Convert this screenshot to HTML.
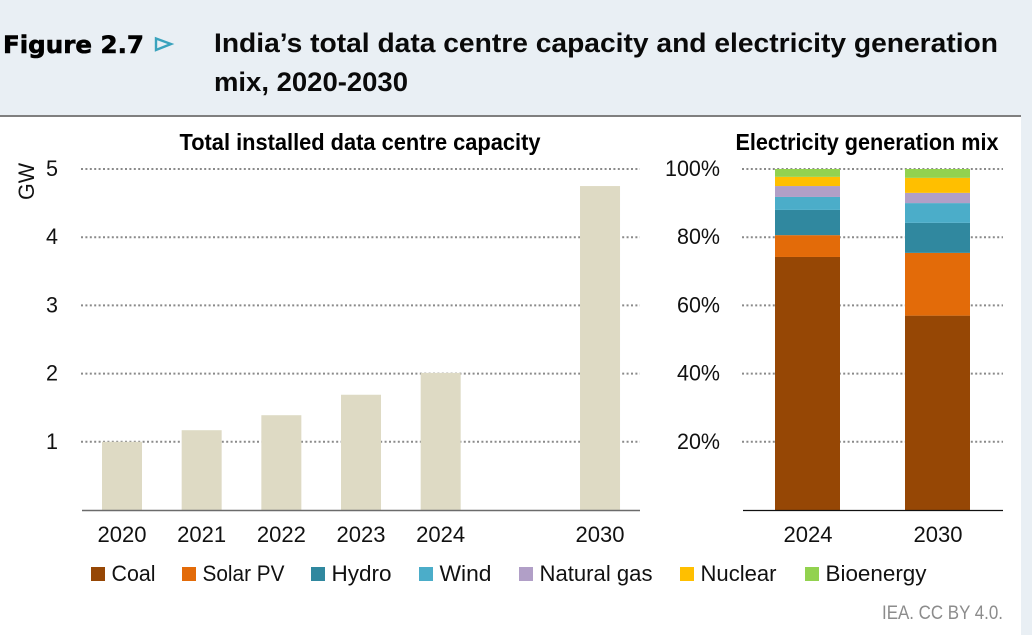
<!DOCTYPE html>
<html lang="en">
<head>
<meta charset="utf-8">
<title>India's total data centre capacity and electricity generation mix</title>
<style>
html,body{margin:0;padding:0;background:#fff;width:1032px;height:635px;overflow:hidden}
svg{display:block;font-family:"Liberation Sans",sans-serif}
</style>
</head>
<body>
<svg id="chart" width="1032" height="635" viewBox="0 0 1032 635" xmlns="http://www.w3.org/2000/svg">
  <rect x="0" y="0" width="1032" height="116" fill="#e9eff4"/>
  <rect x="1021" y="116" width="11" height="519" fill="#e9eff4"/>
  <rect x="0" y="115" width="1021" height="2" fill="#7f7f7f"/>
  <text x="3" y="53" font-family="'DejaVu Sans',sans-serif" font-weight="700" font-size="24" textLength="141" lengthAdjust="spacingAndGlyphs" stroke="#000" stroke-width="0.6" fill="#000">Figure 2.7</text>
  <path d="M156 38.5 L171 44 L156 50 Z" fill="none" stroke="#3aa3bd" stroke-width="2.4"/>
  <text x="214" y="52" font-weight="700" font-size="27" textLength="784" lengthAdjust="spacingAndGlyphs" fill="#0a0a0a">India’s total data centre capacity and electricity generation</text>
  <text x="214" y="91" font-weight="700" font-size="27" textLength="194" lengthAdjust="spacingAndGlyphs" fill="#0a0a0a">mix, 2020-2030</text>
  <text x="360" y="150" text-anchor="middle" font-weight="700" font-size="23" textLength="361" lengthAdjust="spacingAndGlyphs" fill="#000">Total installed data centre capacity</text>
  <text x="867" y="150" text-anchor="middle" font-weight="700" font-size="23" textLength="263" lengthAdjust="spacingAndGlyphs" fill="#000">Electricity generation mix</text>
  <text transform="translate(34 200) rotate(-90)" font-size="22" textLength="37" lengthAdjust="spacingAndGlyphs" fill="#111">GW</text>
  <text x="1003" y="619" text-anchor="end" font-size="19" textLength="121" lengthAdjust="spacingAndGlyphs" fill="#8c8c8c">IEA. CC BY 4.0.</text>
  <g id="capacity-panel"></g>
  <g id="mix-panel"></g>
  <g id="legend"></g>
</svg>
<script>
const capacityYears = ['2020', '2021', '2022', '2023', '2024', '', '2030'];
const capacityValues = [1.0, 1.17, 1.39, 1.69, 2.01, null, 4.75];
const capacityTicks = [1, 2, 3, 4, 5];
const mixYears = ['2024', '2030'];
const mixTicks = [20, 40, 60, 80, 100];
const seriesNames = ['Coal', 'Solar PV', 'Hydro', 'Wind', 'Natural gas', 'Nuclear', 'Bioenergy'];
const seriesColors = ['#964705', '#e36b09', '#30889f', '#4badc9', '#b19fc7', '#ffbf00', '#92d24f'];
const coal = [74.2, 57.0];
const solarPv = [6.4, 18.4];
const hydro = [7.4, 8.8];
const wind = [3.8, 5.8];
const naturalGas = [3.2, 3.0];
const nuclear = [2.7, 4.4];
const bioenergy = [2.3, 2.6];
const mixSeries = [coal, solarPv, hydro, wind, naturalGas, nuclear, bioenergy];

const NS = 'http://www.w3.org/2000/svg';
const baseY = 510, topY = 169;
const capY = v => baseY - (v / 5) * (baseY - topY);
const mixY = v => baseY - (v / 100) * (baseY - topY);
const capX = i => 122 + i * 79.67;
const mixX = i => 807.5 + i * 130;

function make(parent, tag, attrs, content) {
  const el = document.createElementNS(NS, tag);
  for (const k in attrs) el.setAttribute(k, attrs[k]);
  if (content !== undefined) el.textContent = content;
  parent.appendChild(el);
  return el;
}

const capPanel = document.getElementById('capacity-panel');
const mixPanel = document.getElementById('mix-panel');
const legend = document.getElementById('legend');

capacityTicks.forEach(t => {
  const line = make(capPanel, 'line', {x1: 81, x2: 640, y1: capY(t), y2: capY(t), stroke: '#8a8a8a', 'stroke-width': 2, 'stroke-dasharray': '2 2.4'});
  
  
  const label = make(capPanel, 'text', {x: 58, y: capY(t) + 7, 'text-anchor': 'end', 'font-size': 22, textLength: 12, lengthAdjust: 'spacingAndGlyphs', fill: '#111'}, String(t));
  
  
});

capacityValues.forEach((v, i) => {
  if (v === null) return;
  const bar = make(capPanel, 'rect', {x: capX(i) - 20, width: 40, y: capY(v), height: baseY - capY(v), fill: '#dedac4'});
  
  
  const label = make(capPanel, 'text', {x: capX(i), y: 542, 'text-anchor': 'middle', 'font-size': 22, textLength: 49, lengthAdjust: 'spacingAndGlyphs', fill: '#111'}, capacityYears[i]);
  
  
});

const capAxis = make(capPanel, 'line', {x1: 82, x2: 640, y1: 510.5, y2: 510.5, stroke: '#6b6b6b', 'stroke-width': 1.5});



mixTicks.forEach(t => {
  const line = make(mixPanel, 'line', {x1: 742, x2: 1003, y1: mixY(t), y2: mixY(t), stroke: '#8a8a8a', 'stroke-width': 2, 'stroke-dasharray': '2 2.4'});
  
  
  const label = make(mixPanel, 'text', {x: 720, y: mixY(t) + 7, 'text-anchor': 'end', 'font-size': 22, textLength: t === 100 ? 55 : 43, lengthAdjust: 'spacingAndGlyphs', fill: '#111'}, t + '%');
  
  
});

mixYears.forEach((year, i) => {
  let running = 0;
  mixSeries.forEach((series, s) => {
    const y0 = mixY(running);
    running += series[i];
    const y1 = mixY(running);
    const seg = make(mixPanel, 'rect', {x: mixX(i) - 32.5, width: 65, y: y1, height: y0 - y1, fill: seriesColors[s]});
    
    
  });
  const label = make(mixPanel, 'text', {x: mixX(i) + 0.5, y: 542, 'text-anchor': 'middle', 'font-size': 22, textLength: 49, lengthAdjust: 'spacingAndGlyphs', fill: '#111'}, year);
  
  
});

const mixAxis = make(mixPanel, 'line', {x1: 743, x2: 1003, y1: 510.5, y2: 510.5, stroke: '#111', 'stroke-width': 1.2});



const legendLeft = 91;
const legendStep = [91, 129, 108, 100, 161, 125, 0];
const legendTextWidths = [44, 82, 60, 52, 113, 76, 101];
let legendX = legendLeft;
seriesNames.forEach((name, i) => {
  const swatch = make(legend, 'rect', {x: legendX, y: 567, width: 14, height: 14, fill: seriesColors[i]});
  
  
  const label = make(legend, 'text', {x: legendX + 20.5, y: 581, 'font-size': 22, textLength: legendTextWidths[i], lengthAdjust: 'spacingAndGlyphs', fill: '#111'}, name);
  
  
  legendX += legendStep[i];
});
</script>
</body>
</html>
